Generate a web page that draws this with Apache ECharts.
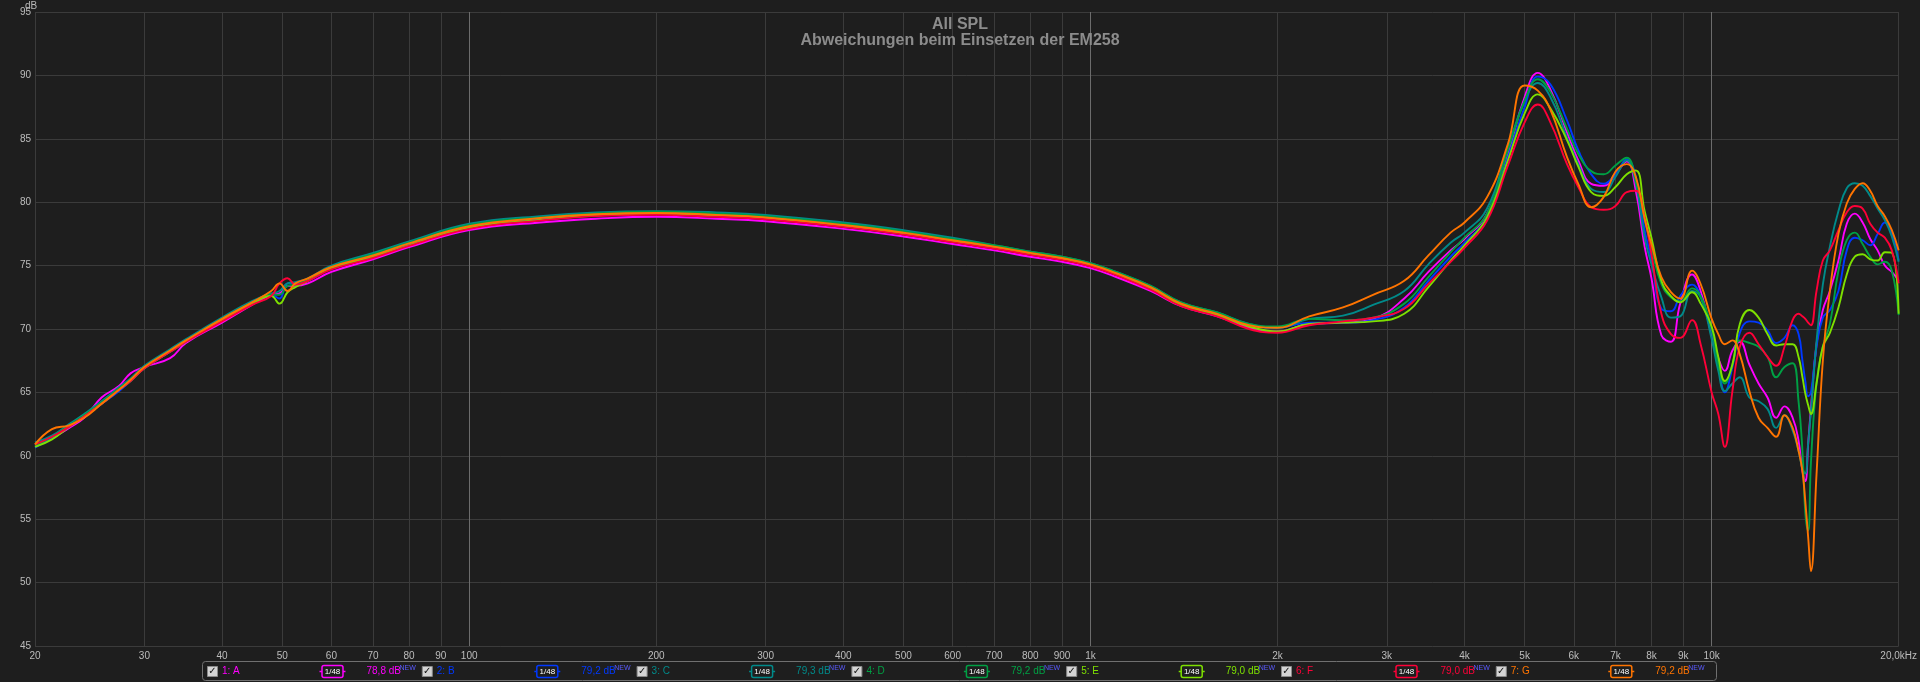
<!DOCTYPE html>
<html><head><meta charset="utf-8">
<script src="https://cdn.jsdelivr.net/npm/echarts@6/dist/echarts.min.js"></script>
<style>html,body{margin:0;padding:0;background:#1e1e1e;overflow:hidden}#c{width:1920px;height:682px}</style>
</head><body><div id="c"></div>
<script>
// ---- DATA ----
const freqs = [20, 21.3, 22.7, 24, 25.6, 27.3, 28.5, 30, 33, 35,
  40, 44.7, 48, 49.5, 51, 52.5, 55, 60, 70, 80,
  100, 130, 160, 200, 250, 300, 400, 500, 600, 700,
  800, 900, 1000, 1100, 1250, 1400, 1600, 1800, 2000, 2250,
  2550, 2850, 3200, 3500, 3800, 4000, 4350, 4700, 5000, 5250,
  5500, 5850, 6100, 6400, 6700, 7000, 7300, 7550, 7800, 8000,
  8300, 8600, 8900, 9300, 9600, 10000, 10250, 10500, 10800, 11100,
  11500, 11900, 12300, 12700, 13100, 13500, 13800, 14000, 14150, 14300,
  14450, 14750, 15100, 15500, 16000, 16500, 17000, 17500, 18000, 18500,
  19000, 19500, 20000];

const splA = [60.8, 61.4, 62.2, 63.0, 64.6, 65.5, 66.5, 67.0, 67.7, 68.9,
  70.5, 71.9, 72.7, 72.8, 73.4, 73.4, 73.6, 74.5, 75.5, 76.45,
  77.8, 78.4, 78.7, 78.85, 78.7, 78.5, 77.9, 77.3, 76.7, 76.2,
  75.7, 75.3, 74.8, 74.1, 73.0, 71.8, 71.0, 70.1, 69.8, 70.4,
  70.5, 70.8, 72.4, 74.5, 76.2, 77.1, 79.1, 83.8, 88.3, 90.2,
  88.9, 85.5, 83.3, 81.45, 81.3, 82.2, 83.2, 80.9, 76.5, 74.0,
  69.5, 69.0, 72.0, 74.3, 73.0, 69.5, 67.7, 66.7, 68.3, 69.0,
  67.2, 65.7, 64.6, 63.0, 63.9, 63.0, 61.2, 58.8, 58.0, 60.9,
  63.8, 68.8, 71.5, 73.0, 75.4, 78.3, 79.1, 78.4, 77.1, 76.2,
  75.0, 74.5, 73.8];
const splB = [60.65, 61.4, 62.3, 63.1, 64.1, 65.1, 65.9, 66.9, 68.2, 69.0,
  70.7, 72.0, 72.7, 72.4, 73.6, 73.6, 73.8, 74.8, 75.8, 76.7,
  78.1, 78.7, 79.0, 79.15, 79.0, 78.8, 78.2, 77.6, 77.0, 76.5,
  76.0, 75.6, 75.1, 74.4, 73.3, 72.0, 71.2, 70.3, 70.1, 70.5,
  70.5, 70.7, 71.7, 73.8, 75.7, 76.8, 78.8, 83.55, 87.5, 89.9,
  89.3, 86.45, 84.1, 82.2, 81.45, 82.2, 83.4, 82.0, 77.8, 75.5,
  71.6, 71.4, 72.6, 73.5, 72.6, 69.9, 67.2, 65.0, 67.0, 69.7,
  70.6, 70.5, 69.9, 68.9, 69.3, 70.3, 69.6, 67.5, 65.9, 64.7,
  65.0, 68.6, 70.9, 71.5, 73.0, 76.2, 77.2, 77.0, 76.6, 77.5,
  78.4, 77.5, 75.4];
const splC = [61.05, 61.6, 62.5, 63.3, 64.3, 65.4, 66.1, 67.1, 68.4, 69.2,
  70.9, 72.2, 72.8, 73.0, 73.6, 73.7, 74.0, 75.0, 76.0, 76.9,
  78.3, 78.9, 79.2, 79.3, 79.2, 79.0, 78.4, 77.8, 77.2, 76.6,
  76.1, 75.7, 75.2, 74.5, 73.4, 72.1, 71.3, 70.4, 70.1, 70.8,
  71.05, 71.9, 73.0, 75.1, 76.8, 77.6, 79.5, 84.3, 88.0, 89.4,
  88.3, 85.1, 83.0, 81.05, 80.8, 82.0, 83.3, 81.45, 77.2, 75.1,
  72.5, 70.9, 71.0, 73.0, 72.5, 69.2, 66.7, 65.1, 65.7, 66.2,
  64.6, 64.3, 63.7, 62.2, 63.2, 62.0, 60.4, 59.0, 58.6, 61.0,
  63.5, 69.0, 73.5, 76.5, 79.3, 81.1, 81.5, 81.3, 80.5, 79.5,
  78.6, 77.3, 75.3];
const splD = [60.8, 61.5, 62.4, 63.2, 64.2, 65.3, 66.0, 67.0, 68.3, 69.1,
  70.8, 72.1, 72.7, 72.7, 73.4, 73.5, 73.9, 74.9, 75.9, 76.8,
  78.2, 78.8, 79.1, 79.25, 79.1, 78.9, 78.3, 77.7, 77.1, 76.6,
  76.1, 75.7, 75.2, 74.5, 73.4, 72.1, 71.3, 70.4, 70.2, 70.8,
  70.7, 70.9, 72.0, 74.1, 76.05, 77.2, 79.1, 84.1, 88.0, 89.7,
  88.7, 85.8, 83.8, 82.45, 82.2, 82.9, 83.5, 81.7, 78.6, 76.4,
  73.55, 72.5, 72.2, 73.2, 72.6, 70.0, 67.2, 65.7, 67.2, 69.1,
  68.9, 68.6, 67.8, 66.2, 67.0, 67.3, 64.3, 60.4, 55.5, 54.1,
  59.5, 65.7, 68.6, 70.4, 74.6, 77.0, 77.6, 76.7, 75.7, 75.1,
  75.3, 74.6, 71.1];
const splE = [60.7, 61.3, 62.3, 63.1, 64.1, 65.2, 65.9, 66.9, 68.2, 69.0,
  70.7, 72.0, 72.6, 72.0, 72.9, 73.3, 73.8, 74.8, 75.7, 76.6,
  78.0, 78.6, 78.95, 79.1, 78.95, 78.75, 78.1, 77.5, 76.9, 76.4,
  75.9, 75.5, 75.0, 74.3, 73.2, 71.9, 71.1, 70.2, 69.8, 70.4,
  70.5, 70.6, 71.2, 73.3, 75.4, 76.6, 78.8, 83.3, 87.0, 88.5,
  87.4, 84.9, 82.8, 80.8, 80.5, 81.2, 82.2, 82.5, 79.3, 77.2,
  73.8, 72.6, 72.1, 72.9, 72.0, 70.2, 67.8, 65.9, 67.2, 70.4,
  71.5, 70.9, 69.6, 68.7, 68.8, 68.8, 67.8, 66.2, 64.9, 64.0,
  63.3, 65.7, 68.6, 69.7, 71.7, 74.3, 75.7, 75.9, 75.5, 75.4,
  76.05, 76.0, 71.2];
const splF = [60.9, 61.5, 62.3, 63.1, 64.1, 65.2, 65.9, 66.9, 68.2, 69.0,
  70.6, 71.9, 72.6, 73.6, 74.0, 73.5, 73.8, 74.7, 75.6, 76.55,
  77.9, 78.55, 78.9, 79.0, 78.85, 78.65, 78.05, 77.45, 76.85, 76.35,
  75.85, 75.45, 74.95, 74.25, 73.1, 71.8, 71.0, 70.0, 69.7, 70.3,
  70.6, 70.9, 71.6, 73.55, 75.3, 76.4, 78.55, 82.9, 86.3, 87.7,
  86.3, 83.0, 81.2, 79.6, 79.4, 79.7, 80.8, 80.9, 78.8, 75.9,
  71.2, 69.6, 69.3, 70.7, 68.8, 65.0, 63.3, 60.7, 65.1, 68.6,
  69.7, 68.8, 67.8, 67.1, 68.6, 70.7, 71.2, 71.0, 70.8, 70.5,
  70.3, 73.0, 75.4, 76.2, 77.8, 79.2, 79.7, 79.5, 78.3, 77.6,
  77.2, 76.2, 73.6];
const splG = [60.9, 62.1, 62.4, 63.0, 64.1, 65.2, 66.0, 67.0, 68.3, 69.1,
  70.8, 72.1, 73.0, 73.6, 73.0, 73.6, 74.0, 74.9, 75.8, 76.75,
  78.1, 78.75, 79.05, 79.15, 79.0, 78.8, 78.2, 77.6, 77.0, 76.5,
  76.0, 75.6, 75.1, 74.4, 73.3, 72.0, 71.2, 70.3, 70.1, 71.0,
  71.7, 72.7, 73.8, 75.8, 77.6, 78.4, 80.4, 84.6, 89.2, 88.8,
  87.3, 83.55, 81.45, 79.6, 80.4, 82.4, 83.0, 82.0, 78.7, 76.7,
  74.1, 72.9, 72.4, 74.6, 73.55, 70.8, 69.6, 68.8, 69.1, 68.0,
  65.1, 63.0, 62.2, 61.5, 63.2, 62.2, 60.4, 58.8, 56.4, 53.6,
  50.9, 58.5, 67.5, 73.0, 77.5, 79.9, 81.05, 81.5, 80.9, 79.7,
  78.9, 77.8, 76.2];

const seriesNames = ['1: A', '2: B', '3: C', '4: D', '5: E', '6: F', '7: G'];
const seriesLevels = ['78,8 dB', '79,2 dB', '79,3 dB', '79,2 dB', '79,0 dB', '79,0 dB', '79,2 dB'];
const seriesColors = ['#ff00ff', '#0038ff', '#008a8a', '#00a044', '#7ee000', '#ff0038', '#ff7400'];
const seriesValues = [splA, splB, splC, splD, splE, splF, splG];

const tickValues = [20, 30, 40, 50, 60, 70, 80, 90, 100, 200, 300, 400, 500, 600, 700, 800, 900,
  1000, 2000, 3000, 4000, 5000, 6000, 7000, 8000, 9000, 10000, 20000];
const tickLabels = ['20', '30', '40', '50', '60', '70', '80', '90', '100', '200', '300', '400', '500', '600', '700', '800', '900',
  '1k', '2k', '3k', '4k', '5k', '6k', '7k', '8k', '9k', '10k', '20,0kHz'];
const decadeValues = [100, 1000, 10000];

const titleText = 'All SPL';
const subtitleText = 'Abweichungen beim Einsetzen der EM258';
const yUnit = 'dB';
const smoothingLabel = '1/48';
const newTag = 'NEW';

// ---- CHART ----
const FONT = '"Liberation Sans", Arial, sans-serif';
const chart = echarts.init(document.getElementById('c'), null, {renderer: 'canvas'});

function labelFor(v) {
  let best = 0, bd = Infinity;
  tickValues.forEach((t, i) => { const d = Math.abs(Math.log(t) - Math.log(v)); if (d < bd) { bd = d; best = i; } });
  return tickLabels[best];
}

const series = seriesValues.map((vals, k) => ({
  name: seriesNames[k],
  type: 'line',
  xAxisIndex: 0,
  data: freqs.map((f, i) => [f, vals[i]]),
  showSymbol: false,
  smooth: 0.45,
  lineStyle: {width: 1.9, color: seriesColors[k]},
  itemStyle: {color: seriesColors[k]},
  emphasis: {disabled: true},
  z: 3
}));

// legend bar drawn as graphic
const graphics = [];
graphics.push({type: 'rect', shape: {x: 202.5, y: 661.5, width: 1514, height: 19, r: 3},
  style: {fill: 'none', stroke: '#707070', lineWidth: 1}, z: 10});
const legendX0 = 207.5, legendPitch = 214.8, legendY = 671.5;
seriesNames.forEach((name, k) => {
  const c = legendX0 + k * legendPitch;
  const col = seriesColors[k];
  graphics.push({type: 'rect', shape: {x: c, y: legendY - 5, width: 10, height: 10},
    style: {fill: '#d4d4d4', stroke: '#8a8a8a', lineWidth: 1}, z: 10});
  graphics.push({type: 'text', x: c + 5, y: legendY, z: 11,
    style: {text: '\u2713', fill: '#111', font: 'bold 10px "DejaVu Sans"', textAlign: 'center', textVerticalAlign: 'middle'}});
  graphics.push({type: 'text', x: c + 14.5, y: legendY, z: 11,
    style: {text: name, fill: col, font: '10px ' + FONT, textVerticalAlign: 'middle'}});
  graphics.push({type: 'line', shape: {x1: c + 112, y1: legendY, x2: c + 138, y2: legendY},
    style: {stroke: col, lineWidth: 1.5}, z: 10});
  graphics.push({type: 'rect', shape: {x: c + 114.5, y: legendY - 6, width: 21, height: 12, r: 2},
    style: {fill: '#1e1e1e', stroke: col, lineWidth: 1.5}, z: 11});
  graphics.push({type: 'text', x: c + 125, y: legendY, z: 12,
    style: {text: smoothingLabel, fill: '#ffffff', font: '8px ' + FONT, textAlign: 'center', textVerticalAlign: 'middle'}});
  graphics.push({type: 'text', x: c + 159, y: legendY, z: 11,
    style: {text: seriesLevels[k], fill: col, font: '10px ' + FONT, textVerticalAlign: 'middle'}});
  graphics.push({type: 'text', x: c + 192, y: legendY - 3, z: 11,
    style: {text: newTag, fill: '#5a5aff', font: '7px ' + FONT, textVerticalAlign: 'middle'}});
});

chart.setOption({
  animation: false,
  backgroundColor: '#1e1e1e',
  textStyle: {fontFamily: FONT},
  title: [
    {text: titleText, subtext: subtitleText, left: 'center', top: 12, itemGap: 0,
      textStyle: {color: '#8c8c8c', fontSize: 16, fontWeight: 'bold', lineHeight: 16},
      subtextStyle: {color: '#8c8c8c', fontSize: 16, fontWeight: 'bold', lineHeight: 16}},
    {text: yUnit, left: 20, top: -4, textStyle: {color: '#b8b8b8', fontSize: 10, fontWeight: 'normal'}}
  ],
  grid: {left: 35, right: 16, top: 12, bottom: 36, containLabel: false},
  xAxis: [
    {type: 'log', logBase: 10, min: 20, max: 20000,
      axisLine: {show: false}, axisTick: {show: false, customValues: tickValues},
      axisLabel: {customValues: tickValues, formatter: labelFor, color: '#bdbdbd', fontSize: 10, margin: 5,
        showMinLabel: true, showMaxLabel: true, hideOverlap: false},
      splitLine: {show: true, lineStyle: {color: '#3b3b3b', width: 1}}},
    {type: 'log', logBase: 10, min: 20, max: 20000, position: 'bottom',
      axisLine: {show: false}, axisTick: {show: false, customValues: decadeValues},
      axisLabel: {show: false}, splitLine: {show: true, lineStyle: {color: '#6c6c6c', width: 1}}}
  ],
  yAxis: {type: 'value', min: 45, max: 95, interval: 5,
    axisLine: {show: false}, axisTick: {show: false},
    axisLabel: {color: '#bdbdbd', fontSize: 10, margin: 4},
    splitLine: {show: true, lineStyle: {color: '#3b3b3b', width: 1}}},
  series: series,
  graphic: graphics
});
</script>
</body></html>
